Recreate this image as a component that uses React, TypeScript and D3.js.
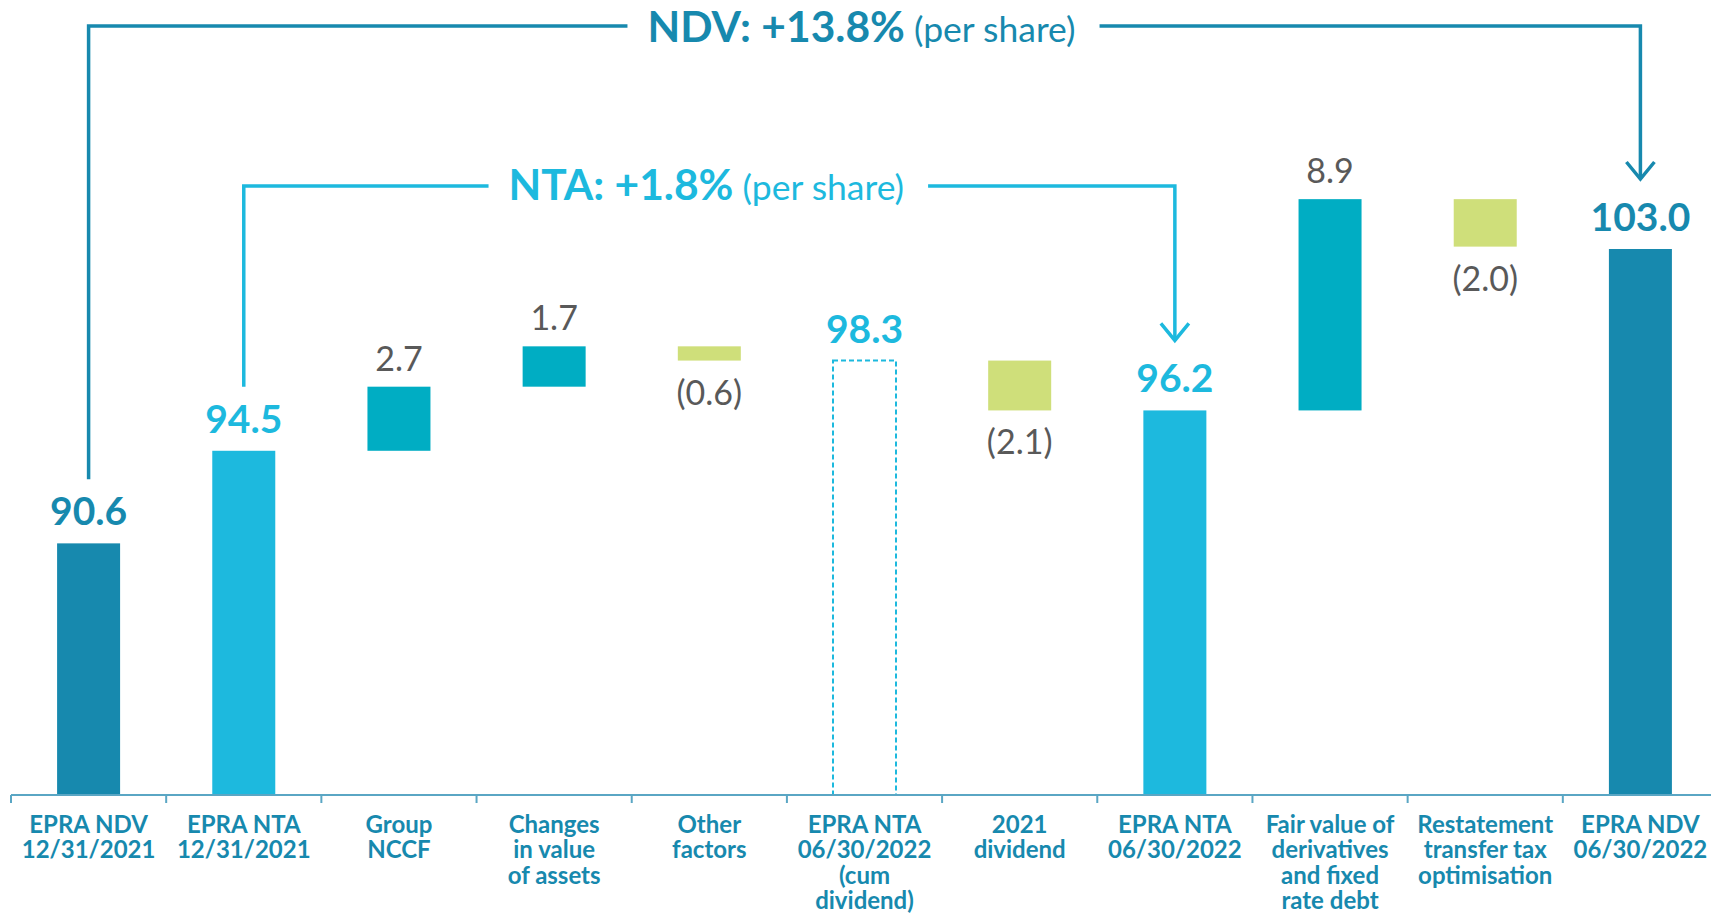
import React, { useLayoutEffect, useRef, useState } from 'react';
import * as d3 from 'd3';

// ---------- data ----------
const categoryLines: string[][] = [
  ['EPRA NDV', '12/31/2021'],
  ['EPRA NTA', '12/31/2021'],
  ['Group', 'NCCF'],
  ['Changes', 'in value', 'of assets'],
  ['Other', 'factors'],
  ['EPRA NTA', '06/30/2022', '(cum', 'dividend)'],
  ['2021', 'dividend'],
  ['EPRA NTA', '06/30/2022'],
  ['Fair value of', 'derivatives', 'and fixed', 'rate debt'],
  ['Restatement', 'transfer tax', 'optimisation'],
  ['EPRA NDV', '06/30/2022'],
];
const kinds = ['ndv', 'nta', 'up', 'up', 'down', 'ntaOutline', 'down', 'nta', 'up', 'down', 'ndv'];
const values = [90.6, 94.5, 2.7, 1.7, -0.6, 98.3, -2.1, 96.2, 8.9, -2.0, 103.0];
const valueLabels = ['90.6', '94.5', '2.7', '1.7', '(0.6)', '98.3', '(2.1)', '96.2', '8.9', '(2.0)', '103.0'];
const yDomain = [80, 103];
const ndvTitleBold = 'NDV: +13.8%';
const ndvTitleNormal = '(per share)';
const ntaTitleBold = 'NTA: +1.8%';
const ntaTitleNormal = '(per share)';
const ndvBracket = [0, 10];
const ntaBracket = [1, 7];

// ---------- style ----------
const W = 1711;
const H = 915;
const C_NDV = '#1789AE';
const C_NTA = '#1DB9DE';
const C_UP = '#00ADC3';
const C_DOWN = '#CFDF7A';
const C_GRAY = '#595959';
const C_AXIS = '#5AA6C4';
const FONT = "Lato, 'Open Sans', sans-serif";

export default function App() {
  const x = d3.scaleBand<number>().domain(d3.range(values.length)).range([11, 1718]).padding(0);
  const y = d3.scaleLinear().domain(yDomain).range([795, 249]);
  const barW = x.bandwidth() * 0.406;
  const cx = (i: number) => (x(i) as number) + x.bandwidth() / 2;

  // waterfall geometry
  let running = 0;
  const steps = values.map((v, i) => {
    const k = kinds[i];
    let start: number, end: number;
    if (k === 'ndv' || k === 'nta' || k === 'ntaOutline') {
      start = yDomain[0];
      end = v;
      running = v;
    } else {
      start = running;
      end = running + v;
      running = end;
    }
    return { i, k, v, start, end, top: Math.max(start, end), bottom: Math.min(start, end) };
  });

  const ndvRef = useRef<SVGTextElement>(null);
  const ntaRef = useRef<SVGTextElement>(null);
  const [ndvW, setNdvW] = useState(430);
  const [ntaW, setNtaW] = useState(398);
  useLayoutEffect(() => {
    if (ndvRef.current) setNdvW(ndvRef.current.getBBox().width);
    if (ntaRef.current) setNtaW(ntaRef.current.getBBox().width);
  }, []);

  const bracket = (
    from: number,
    to: number,
    level: number,
    color: string,
    textW: number,
    textCx: number
  ) => {
    const x0 = cx(from);
    const x1 = cx(to);
    const yLeftEnd = y(values[from]) - 64;
    const tip = y(values[to]) - 70;
    const l1 = textCx - textW / 2 - 20;
    const r0 = textCx + textW / 2 + 24;
    return (
      <g stroke={color} strokeWidth={3.5} fill="none">
        <path d={`M${x0},${yLeftEnd} L${x0},${level} L${l1},${level}`} strokeLinejoin="miter" />
        <path d={`M${r0},${level} L${x1},${level} L${x1},${tip}`} strokeLinejoin="miter" />
        <path d={`M${x1 - 14},${tip - 17} L${x1},${tip} L${x1 + 14},${tip - 17}`} />
      </g>
    );
  };

  const ndvCx = (cx(ndvBracket[0]) + cx(ndvBracket[1])) / 2 - 3;
  const ntaCx = (cx(ntaBracket[0]) + cx(ntaBracket[1])) / 2 - 3;

  return (
    <svg
      width={W}
      height={H}
      style={{ position: 'absolute', left: 0, top: 0, background: '#fff', display: 'block' }}
      fontFamily={FONT}
    >
      <rect x={0} y={0} width={W} height={H} fill="#fff" />

      {/* bars */}
      {steps.map((s) => {
        const bx = cx(s.i) - barW / 2;
        const yt = y(s.top);
        const yb = y(s.bottom);
        if (s.k === 'ntaOutline') {
          return (
            <rect
              key={s.i}
              x={bx}
              y={yt}
              width={barW}
              height={yb - yt}
              fill="none"
              stroke={C_NTA}
              strokeWidth={2}
              strokeDasharray="5 3"
            />
          );
        }
        const fill = s.k === 'ndv' ? C_NDV : s.k === 'nta' ? C_NTA : s.k === 'up' ? C_UP : C_DOWN;
        return <rect key={s.i} x={bx} y={yt} width={barW} height={yb - yt} fill={fill} />;
      })}

      {/* value labels */}
      {steps.map((s) => {
        const isTotal = s.k === 'ndv' || s.k === 'nta' || s.k === 'ntaOutline';
        if (isTotal) {
          return (
            <text
              key={s.i}
              x={cx(s.i)}
              y={y(s.top) - 18}
              textAnchor="middle"
              fontWeight={700}
              fontSize={39}
              fill={s.k === 'ndv' ? C_NDV : C_NTA}
            >
              {valueLabels[s.i]}
            </text>
          );
        }
        const below = s.k === 'down';
        return (
          <text
            key={s.i}
            x={cx(s.i)}
            y={below ? y(s.bottom) + 44 : y(s.top) - 16}
            textAnchor="middle"
            fontSize={34}
            fill={C_GRAY}
          >
            {valueLabels[s.i]}
          </text>
        );
      })}

      {/* axis */}
      <g stroke={C_AXIS} strokeWidth={2}>
        <line x1={x(0) as number} x2={W} y1={795} y2={795} />
        {d3.range(values.length).map((i) => (
          <line key={i} x1={x(i) as number} x2={x(i) as number} y1={795} y2={803} />
        ))}
      </g>

      {/* category labels */}
      {categoryLines.map((lines, i) => (
        <text
          key={i}
          x={cx(i)}
          y={833}
          textAnchor="middle"
          fontWeight={700}
          fontSize={24}
          fill={C_NDV}
        >
          {lines.map((ln, j) => (
            <tspan key={j} x={cx(i)} dy={j === 0 ? 0 : 25.3}>
              {ln}
            </tspan>
          ))}
        </text>
      ))}

      {/* brackets */}
      {bracket(ndvBracket[0], ndvBracket[1], 26, C_NDV, ndvW, ndvCx)}
      {bracket(ntaBracket[0], ntaBracket[1], 186, C_NTA, ntaW, ntaCx)}

      <text ref={ndvRef} x={ndvCx} y={41.5} textAnchor="middle" fill={C_NDV}>
        <tspan fontWeight={700} fontSize={42.5}>
          {ndvTitleBold}
        </tspan>
        <tspan fontSize={35.5}>{' ' + ndvTitleNormal}</tspan>
      </text>
      <text ref={ntaRef} x={ntaCx} y={200} textAnchor="middle" fill={C_NTA}>
        <tspan fontWeight={700} fontSize={42.5}>
          {ntaTitleBold}
        </tspan>
        <tspan fontSize={35.5}>{' ' + ntaTitleNormal}</tspan>
      </text>
    </svg>
  );
}
